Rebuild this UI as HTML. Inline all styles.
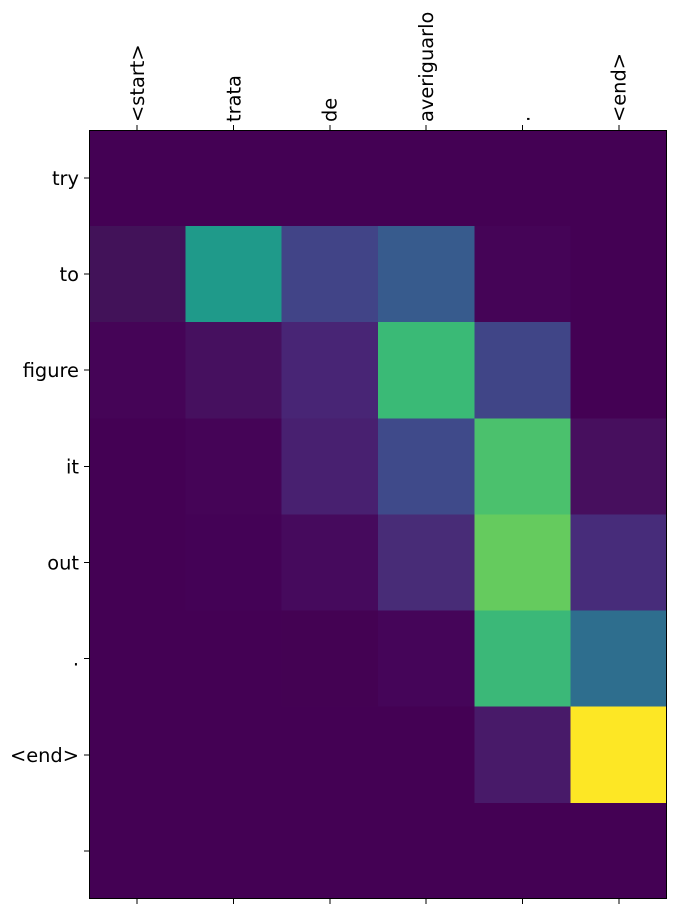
<!DOCTYPE html>
<html><head><style>html,body{margin:0;padding:0;background:#fff;}svg{display:block}</style></head>
<body>
<svg width="676" height="915" xmlns="http://www.w3.org/2000/svg" font-family="DejaVu Sans, Liberation Sans, sans-serif" font-size="19.4" fill="#000">
<g shape-rendering="crispEdges">
<rect x="89" y="130" width="578" height="769" fill="#440154"/>
<rect x="89" y="226" width="96.4" height="96.2" fill="#421259"/>
<rect x="185.3" y="226" width="96.4" height="96.2" fill="#1f9a8a"/>
<rect x="281.7" y="226" width="96.4" height="96.2" fill="#414487"/>
<rect x="378" y="226" width="96.4" height="96.2" fill="#375b8d"/>
<rect x="474.3" y="226" width="96.4" height="96.2" fill="#450457"/>
<rect x="89" y="322.1" width="96.4" height="96.2" fill="#450457"/>
<rect x="185.3" y="322.1" width="96.4" height="96.2" fill="#46105f"/>
<rect x="281.7" y="322.1" width="96.4" height="96.2" fill="#482575"/>
<rect x="378" y="322.1" width="96.4" height="96.2" fill="#3aba76"/>
<rect x="474.3" y="322.1" width="96.4" height="96.2" fill="#404587"/>
<rect x="185.3" y="418.3" width="96.4" height="96.2" fill="#450457"/>
<rect x="281.7" y="418.3" width="96.4" height="96.2" fill="#482070"/>
<rect x="378" y="418.3" width="96.4" height="96.2" fill="#3f4a8a"/>
<rect x="474.3" y="418.3" width="96.4" height="96.2" fill="#4bc16d"/>
<rect x="570.7" y="418.3" width="96.3" height="96.2" fill="#470f5e"/>
<rect x="185.3" y="514.4" width="96.4" height="96.2" fill="#440256"/>
<rect x="281.7" y="514.4" width="96.4" height="96.2" fill="#460a5d"/>
<rect x="378" y="514.4" width="96.4" height="96.2" fill="#482c77"/>
<rect x="474.3" y="514.4" width="96.4" height="96.2" fill="#65cb5e"/>
<rect x="570.7" y="514.4" width="96.3" height="96.2" fill="#472c7a"/>
<rect x="281.7" y="610.5" width="96.4" height="96.2" fill="#440253"/>
<rect x="378" y="610.5" width="96.4" height="96.2" fill="#450559"/>
<rect x="474.3" y="610.5" width="96.4" height="96.2" fill="#3bb878"/>
<rect x="570.7" y="610.5" width="96.3" height="96.2" fill="#2e6e8e"/>
<rect x="474.3" y="706.6" width="96.4" height="96.2" fill="#481a69"/>
<rect x="570.7" y="706.6" width="96.3" height="96.2" fill="#fde725"/>
<rect x="89.5" y="130.5" width="577" height="768" fill="none" stroke="#000" stroke-width="1"/>
<g stroke="#000" stroke-width="1">
<line x1="137.2" y1="125" x2="137.2" y2="130"/><line x1="233.5" y1="125" x2="233.5" y2="130"/><line x1="329.8" y1="125" x2="329.8" y2="130"/><line x1="426.2" y1="125" x2="426.2" y2="130"/><line x1="522.5" y1="125" x2="522.5" y2="130"/><line x1="618.8" y1="125" x2="618.8" y2="130"/>
<line x1="137.2" y1="899" x2="137.2" y2="904"/><line x1="233.5" y1="899" x2="233.5" y2="904"/><line x1="329.8" y1="899" x2="329.8" y2="904"/><line x1="426.2" y1="899" x2="426.2" y2="904"/><line x1="522.5" y1="899" x2="522.5" y2="904"/><line x1="618.8" y1="899" x2="618.8" y2="904"/>
<line x1="84" y1="178" x2="89" y2="178"/><line x1="84" y1="274.1" x2="89" y2="274.1"/><line x1="84" y1="370.2" x2="89" y2="370.2"/><line x1="84" y1="466.4" x2="89" y2="466.4"/><line x1="84" y1="562.5" x2="89" y2="562.5"/><line x1="84" y1="658.6" x2="89" y2="658.6"/><line x1="84" y1="754.8" x2="89" y2="754.8"/><line x1="84" y1="850.9" x2="89" y2="850.9"/>
</g>
</g>
<g text-anchor="end">
<text x="79" y="185">try</text>
<text x="79" y="281.1">to</text>
<text x="79" y="377.2">figure</text>
<text x="79" y="473.4">it</text>
<text x="79" y="569.5">out</text>
<text x="79" y="665.6">.</text>
<text x="79" y="761.8">&lt;end&gt;</text>
</g>
<g>
<text transform="translate(144,122) rotate(-90)">&lt;start&gt;</text>
<text transform="translate(240.3,122) rotate(-90)">trata</text>
<text transform="translate(336.6,122) rotate(-90)">de</text>
<text transform="translate(433,122) rotate(-90)">averiguarlo</text>
<text transform="translate(529.3,122) rotate(-90)">.</text>
<text transform="translate(625.6,122) rotate(-90)">&lt;end&gt;</text>
</g>
</svg>
</body></html>
